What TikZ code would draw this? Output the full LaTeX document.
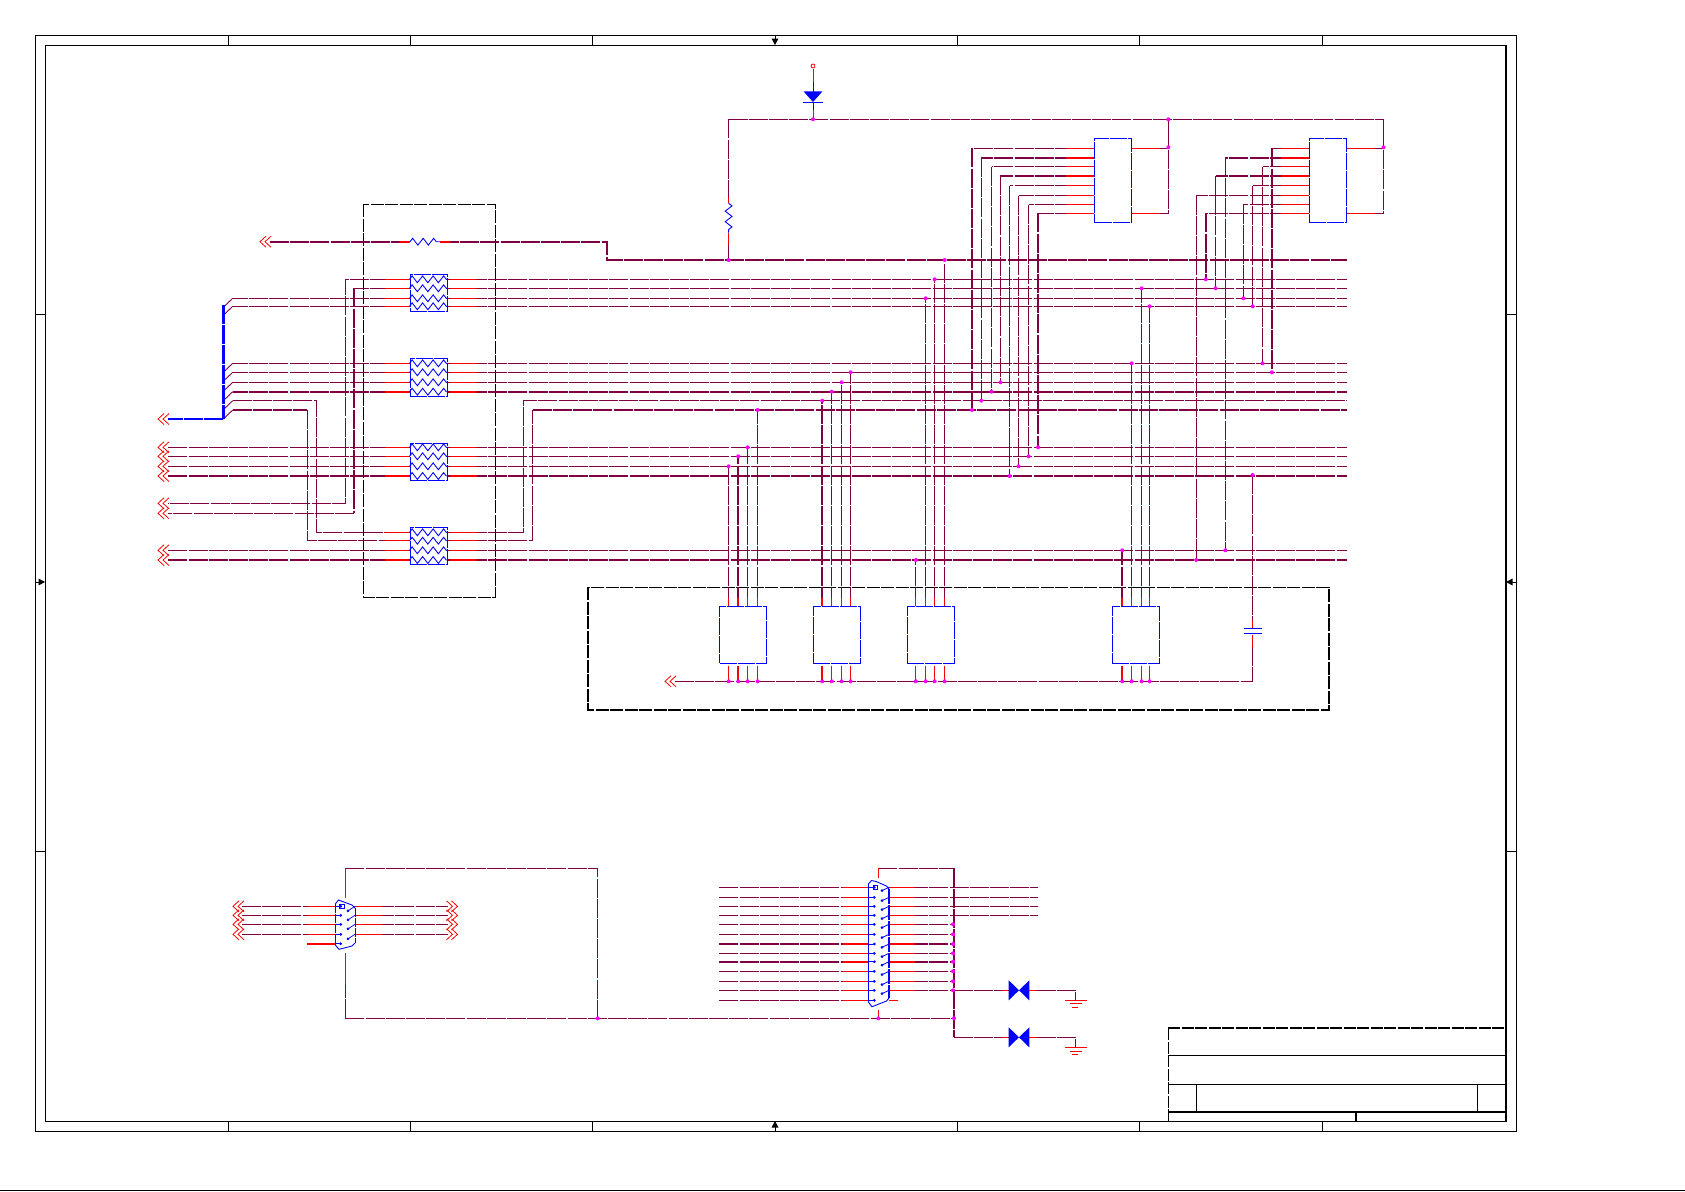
\documentclass[tikz,border=0pt]{standalone}
\usetikzlibrary{calc,decorations.pathmorphing}
\pgfdeclarelayer{topl}
\pgfsetlayers{main,topl}
\definecolor{wirec}{HTML}{800040}
\definecolor{junc}{HTML}{FF00FF}
\tikzset{
  x=1pt,y=-1pt,
  wire/.style={draw=wirec,line width=0.9pt,dash pattern=on 19pt off 1.2pt},
  wireT/.style={draw=wirec,line width=1.9pt,dash pattern=on 19pt off 1.2pt},
  stub/.style={draw=red,line width=0.8pt},
  stubT/.style={draw=red,line width=1.9pt},
  icbox/.style={draw=blue,line width=0.9pt,dash pattern=on 17pt off 1pt,rectangle,inner sep=0pt,fill=white},
  frameline/.style={draw=black,line width=0.9pt},
  groupbox/.style={draw=black,line width=0.9pt,dash pattern=on 13pt off 1.5pt},
  zig/.style={draw=blue,line width=0.9pt,decorate,decoration={zigzag,segment length=10.5pt,amplitude=3.4pt}},
  jdot/.style={fill=junc,draw=none},
  chev/.pic={\draw[red,line width=0.8pt] (6,-5.5) -- (0,0) -- (6,5.5) (11,-5.5) -- (5,0) -- (11,5.5);},
  chevR/.pic={\draw[red,line width=0.8pt] (-6,-5.5) -- (0,0) -- (-6,5.5) (-11,-5.5) -- (-5,0) -- (-11,5.5);},
  pindot/.style={fill=blue,draw=none}
}
\newcommand{\jd}[1]{\begin{pgfonlayer}{topl}\fill[jdot] #1 circle (2pt);\end{pgfonlayer}}
\begin{document}
\begin{tikzpicture}
\useasboundingbox (0,0) rectangle (1685,1191);
% ---------- drawing frame
\draw[frameline] (35.5,35.5) rectangle (1516,1131);
\draw[frameline] (45,45) rectangle (1506,1121);
\draw[draw=black,line width=1.8pt] (1506,45) -- (1506,1121);
\foreach \x in {228,410.5,592,957.5,1139,1322}{
  \draw[frameline] (\x,35.5) -- (\x,45);
  \draw[frameline] (\x,1121) -- (\x,1131);
}
\foreach \y in {314,851}{
  \draw[frameline] (35.5,\y) -- (45,\y);
  \draw[frameline] (1506,\y) -- (1516,\y);
}
\draw[frameline] (775,35.5) -- (775,40);
\fill (775,45) -- (771.5,38.5) -- (778.5,38.5) -- cycle;
\draw[frameline] (775,1126.5) -- (775,1131);
\fill (775,1121) -- (771.5,1127.5) -- (778.5,1127.5) -- cycle;
\draw[frameline] (35.5,582) -- (40,582);
\fill (45,582) -- (38.5,578.5) -- (38.5,585.5) -- cycle;
\draw[frameline] (1511.5,582) -- (1516,582);
\fill (1506,582) -- (1512.5,578.5) -- (1512.5,585.5) -- cycle;
\draw[draw=black,line width=0.9pt] (0,1190) -- (1685,1190);
% ---------- title block
\draw[draw=black,line width=1.5pt,dash pattern=on 12pt off 1.5pt] (1168,1028) -- (1506,1028);
\draw[draw=black,line width=0.9pt,dash pattern=on 12pt off 1.5pt] (1168,1028) -- (1168,1121);
\draw[frameline] (1168,1055) -- (1506,1055);
\draw[frameline] (1168,1084) -- (1506,1084);
\draw[draw=black,line width=1.6pt] (1168,1112) -- (1506,1112);
\draw[frameline] (1196,1084) -- (1196,1112);
\draw[frameline] (1477,1084) -- (1477,1112);
\draw[draw=black,line width=1.6pt] (1356,1112) -- (1356,1121);
% ---------- group boxes
\draw[groupbox] (363,204) rectangle (495,597);
\draw[groupbox,line width=1.3pt] (588,587.3) rectangle (1329,710);
% ---------- named rails
\foreach \n/\y in {V/260,A/279.3,B/288.3,C/298.3,D/306.3,E/363.3,F/372.3,G/382.3,H/391.7,I/400.7,J/410,K/447.3,L/456.3,M/466.3,N/476,P/550.3,Q/560}{
  \coordinate (r\n) at (1347,\y);
  \coordinate (e\n) at (232.7,\y);
  \coordinate (a\n) at (168,\y);
}
\coordinate (n4a) at (400,532.3);
\coordinate (n4b) at (400,540.7);
% ---------- components (upper left)
\node[icbox,minimum width=37.3pt,minimum height=36.6pt] (RN1) at (428.6,293) {};
\node[icbox,minimum width=37.3pt,minimum height=38.4pt] (RN2) at (428.6,377.5) {};
\node[icbox,minimum width=37.3pt,minimum height=37.4pt] (RN3) at (428.6,462) {};
\node[icbox,minimum width=37.3pt,minimum height=37.4pt] (RN4) at (428.6,546) {};
% logic packages
\node[icbox,minimum width=46.7pt,minimum height=57pt] (IC1) at (743.2,634.8) {};
\node[icbox,minimum width=47.2pt,minimum height=57pt] (IC2) at (836.9,634.8) {};
\node[icbox,minimum width=47.3pt,minimum height=57pt] (IC3) at (930.9,634.8) {};
\node[icbox,minimum width=47.3pt,minimum height=57pt] (IC4) at (1136,634.8) {};
\node[icbox,minimum width=37.1pt,minimum height=84.4pt] (U1) at (1113.2,180.5) {};
\node[icbox,minimum width=37pt,minimum height=84.4pt] (U2) at (1327.9,180.5) {};
% ---------- series resistor and supply
\coordinate (arrR) at (270,241.7);
\coordinate (Rw) at (410,241.7);
\coordinate (Re) at (440,241.7);
\coordinate (Rs) at (607,241.7);
\coordinate (Rd) at (607,260);
\draw[wireT] (arrR) -- (Rw);
\draw[wireT] (Re) -- (Rs) -- (Rd) -- (rV);
\draw[stubT] (400,241.7) -- (Rw) (Re) -- (450,241.7);
\draw[zig] (Rw) -- (Re);
\pic at (260,241.7) {chev};
% ---------- RN west side
\coordinate (bA) at (345.7,503.3);
\coordinate (bB) at (354,513.3);
\coordinate (aA2) at (168,503.3);
\coordinate (aB2) at (168,513.3);
\draw[wire] (RN1.west |- rA) -- (bA |- rA) -- (bA) -- (aA2);
\draw[wire] (RN1.west |- rB) -- (bB |- rB);
\draw[wireT] (bB |- rB) -- (bB);
\draw[wire] (bB) -- (aB2);
\foreach \n in {C,D}{\draw[wire] (RN1.west |- r\n) -- (e\n);}
\foreach \n in {E,F,G}{\draw[wire] (RN2.west |- r\n) -- (e\n);}
\draw[wireT] (RN2.west |- rH) -- (eH);
\foreach \n in {K,L,M}{\draw[wire] (RN3.west |- r\n) -- (a\n);}
\draw[wireT] (RN3.west |- rN) -- (aN);
\draw[wire] (RN4.west |- rP) -- (aP);
\draw[wireT] (RN4.west |- rQ) -- (aQ);
\coordinate (bI) at (316.3,532.3);
\coordinate (bJ) at (307.3,540.7);
\draw[wire] (eI) -- (bI |- eI) -- (bI) -- (RN4.west |- n4a);
\draw[wireT] (eJ) -- (bJ |- eJ);
\draw[wire] (bJ |- eJ) -- (bJ) -- (RN4.west |- n4b);
% RN east side
\foreach \b/\n in {RN1/A,RN1/B,RN1/C,RN1/D,RN2/E,RN2/F,RN2/G,RN3/K,RN3/L,RN3/M,RN4/P}{
  \draw[wire] (\b.east |- r\n) -- (r\n);
}
\foreach \b/\n in {RN2/H,RN3/N,RN4/Q}{
  \draw[wireT] (\b.east |- r\n) -- (r\n);
}
\coordinate (cI) at (523.3,532.3);
\coordinate (cJ) at (532.7,540.7);
\draw[wire] (RN4.east |- n4a) -- (cI) -- (cI |- rI) -- (rI);
\draw[wire] (RN4.east |- n4b) -- (cJ) -- (cJ |- rJ);
\draw[wireT] (cJ |- rJ) -- (rJ);
% RN stubs and elements
\foreach \b/\n/\w in {RN1/A/0.8,RN1/B/0.8,RN1/C/0.8,RN1/D/0.8,RN2/E/0.8,RN2/F/0.8,RN2/G/0.8,RN2/H/1.9,RN3/K/0.8,RN3/L/0.8,RN3/M/0.8,RN3/N/1.9,RN4/P/0.8,RN4/Q/1.9}{
  \draw[draw=red,line width=\w pt] (\b.west |- r\n) ++(-25,0) -- (\b.west |- r\n);
  \draw[draw=red,line width=\w pt] (\b.east |- r\n) ++(2,0) -- ++(27,0);
  \draw[zig] (\b.west |- r\n) -- (\b.east |- r\n);
}
\foreach \n in {n4a,n4b}{
  \draw[stub] (RN4.west |- \n) ++(-25,0) -- (RN4.west |- \n);
  \draw[stub] (RN4.east |- \n) ++(2,0) -- ++(27,0);
  \draw[zig] (RN4.west |- \n) -- (RN4.east |- \n);
}
% ---------- bus
\coordinate (busT) at (223.3,305);
\coordinate (busB) at (223.3,419);
\coordinate (busE) at (168,419);
\foreach \n in {C,D,E,F,G,H,I,J}{
  \draw[draw=wirec,line width=0.9pt] (e\n) -- ++(-9.4,9);
}
\draw[draw=blue,line width=2.6pt,dash pattern=on 19pt off 1pt] (busT) -- (busB);
\draw[draw=blue,line width=2pt,dash pattern=on 19pt off 1pt] (busB) -- (busE);
\pic at (158,419) {chev};
\foreach \c in {aK,aL,aM,aN,aA2,aB2,aP,aQ}{ \pic at ($(\c)+(-10,0)$) {chev}; }
% ---------- diode and pull-up
\coordinate (Vt) at (813,69);
\coordinate (Dk) at (813,119.3);
\coordinate (Ra) at (728.6,203.3);
\coordinate (Rb) at (728.6,232.7);
\coordinate (rail) at (1383.5,119.3);
\coordinate (T1) at (1168.3,119.3);
\draw[red,line width=0.8pt] (813,66) circle (2pt);
\draw[stub] (Vt) -- (813,82);
\draw[draw=blue,line width=0.8pt] (813,82) -- (813,92);
\fill[blue] (803.5,91.3) -- (822.5,91.3) -- (813,102) -- cycle;
\draw[draw=blue,line width=0.9pt] (802.7,102) -- (822.8,102);
\draw[draw=blue,line width=0.8pt] (813,102) -- (813,110);
\draw[stub] (813,110) -- (Dk);
\draw[wire] (Ra |- Dk) -- (rail);
\draw[wire] (Ra |- Dk) -- (Ra);
\draw[stub] (728.6,197) -- (Ra);
\draw[zig] (Ra) -- (Rb);
\draw[stub] (Rb) -- (728.6,245);
\draw[wire] (728.6,245) -- (728.6,260);
% ---------- U1 / U2 pins
\foreach \k/\y in {1/148.3,2/158,3/166.7,4/176,5/185.7,6/195.7,7/204.7,8/213.3}{
  \coordinate (p\k) at (1000,\y);
}
\foreach \k/\x/\n/\hw/\vw in {1/971.9/J/0.9/1.9,2/981.3/I/1.9/1.3,3/991.5/H/0.9/0.9,4/1000.4/G/1.9/0.9,5/1009.6/N/0.9/0.9,6/1018.5/M/0.9/0.9,7/1028.6/L/0.9/0.9,8/1038.1/K/0.9/1.9}{
  \coordinate (u1c\k) at (\x,0);
  \draw[wirec,line width=\hw pt,dash pattern=on 19pt off 1.2pt] (U1.west |- p\k) -- (u1c\k |- p\k);
  \draw[wirec,line width=\vw pt,dash pattern=on 19pt off 1.2pt] (u1c\k |- p\k) -- (u1c\k |- r\n);
  \draw[draw=red,line width=\hw pt] (U1.west |- p\k) -- ++(-28,0);
  \jd{(u1c\k |- r\n)}
}
\foreach \k/\x/\n/\hw/\vw in {1/1271.9/F/0.9/1.9,2/1225.3/P/1.9/0.9,3/1262.5/E/0.9/0.9,4/1215.6/B/1.9/0.9,5/1252.7/D/0.9/0.9,6/1196.2/Q/0.9/0.9,7/1243.3/C/0.9/0.9,8/1205.8/A/0.9/1.9}{
  \coordinate (u2c\k) at (\x,0);
  \draw[wirec,line width=\hw pt,dash pattern=on 19pt off 1.2pt] (U2.west |- p\k) -- (u2c\k |- p\k);
  \draw[wirec,line width=\vw pt,dash pattern=on 19pt off 1.2pt] (u2c\k |- p\k) -- (u2c\k |- r\n);
  \draw[draw=red,line width=\hw pt] (U2.west |- p\k) -- ++(-28,0);
  \jd{(u2c\k |- r\n)}
}
% U right sides
\draw[wire] (U1.east |- p1) -| (T1);
\draw[wire] (U1.east |- p8) -| (T1);
\draw[stub] (U1.east |- p1) -- ++(28,0);
\draw[stub] (U1.east |- p8) -- ++(28,0);
\draw[wire] (U2.east |- p1) -| (rail);
\draw[wire] (U2.east |- p8) -| (rail);
\draw[stub] (U2.east |- p1) -- ++(28,0);
\draw[stub] (U2.east |- p8) -- ++(28,0);
% ---------- logic package pins
\coordinate (gbus) at (1252.6,681.3);
\coordinate (gbusL) at (675,681.3);
\draw[wire] (gbusL) -- (gbus);
\pic at (665,681.3) {chev};
\foreach \x/\n/\w/\t in {728.7/M/0.9/IC1,738.2/L/1.6/IC1,747.6/K/0.9/IC1,757.6/J/0.9/IC1,
  822.2/I/1.9/IC2,831.7/H/0.9/IC2,841.6/G/0.9/IC2,850.6/F/0.9/IC2,
  915.8/Q/0.9/IC3,925.7/C/0.9/IC3,934.7/A/0.9/IC3,944.6/V/0.9/IC3,
  1122.2/P/1.6/IC4,1131.7/E/0.9/IC4,1141.6/B/0.9/IC4,1149.6/D/0.9/IC4}{
  \coordinate (c) at (\x,0);
  \draw[wirec,line width=\w pt,dash pattern=on 19pt off 1.2pt] (c |- \t.north) -- (c |- r\n);
  \draw[draw=red,line width=\w pt] (c |- \t.north) -- ++(0,-8);
  \draw[wirec,line width=\w pt] ($(c |- \t.south)+(0,2)$) -- (c |- gbus);
  \draw[draw=red,line width=\w pt] ($(c |- \t.south)+(0,2)$) -- ++(0,13);
  \jd{(c |- r\n)}
  \jd{(c |- gbus)}
}
% capacitor
\coordinate (Cp) at (1252.6,475);
\draw[wire] (Cp) -- (1252.6,620);
\draw[stub] (1252.6,620) -- (1252.6,628.3);
\draw[draw=blue,line width=0.9pt] (1244,628.3) -- (1261.5,628.3);
\draw[draw=blue,line width=0.9pt] (1244,633.3) -- (1261.5,633.3);
\draw[stub] (1252.6,635) -- (1252.6,647);
\draw[wire] (1252.6,647) -- (gbus);
\jd{(Cp)}
% top junctions
\jd{(Dk)}
\jd{(T1)}
\jd{(1168.3,147.3)}
\jd{(1383.5,147.3)}
\jd{(728.6,260)}
% ---------- 9-pin connector
\coordinate (JT) at (345.3,868.3);
\coordinate (JTR) at (597.7,868.3);
\coordinate (JB) at (345.3,1018.3);
\coordinate (JBR) at (597.7,1018.3);
\coordinate (Bcorner) at (954,1018.3);
\draw[wire] (JB) -- (Bcorner);
\draw[wire] (JT) -- (JTR) -- (JBR);
\draw[wire] (JB) -- (345.3,985);
\draw[stub] (345.3,953.3) -- (345.3,985);
\draw[stub] (JT) -- (345.3,898.3);
\foreach \k/\y in {1/906.3,2/915.3,3/924.3,4/934.3}{
  \coordinate (j\k) at (300,\y);
  \draw[wire] (242,\y) -- (335.3,\y);
  \draw[stub] (308.3,\y) -- (335.3,\y);
  \draw[wire] (355,\y) -- (447.5,\y);
  \draw[stub] (355,\y) -- (381.7,\y);
  \pic at (233,\y) {chev};
  \pic at (457.5,\y) {chevR};
  \fill[pindot] (340.7,\y) circle (1.5pt);
  \draw[draw=blue,line width=0.7pt] (335.3,\y) -- (340.7,\y);
  \fill[pindot] (348,\y+4.5) circle (1.5pt);
  \draw[draw=blue,line width=0.7pt] (348,\y+4.5) -- (355,\y);
}
\draw[stubT] (307.3,943.7) -- (335.3,943.7);
\fill[pindot] (340.7,943.7) circle (1.5pt);
\draw[draw=blue,line width=0.7pt] (335.3,943.7) -- (340.7,943.7);
\draw[draw=blue,line width=1.3pt,dash pattern=on 9pt off 1pt] (335.3,904) -- (335.3,945);
\draw[draw=blue,line width=0.9pt] (335.3,904) -- (338.5,900) -- (352,905) -- (355,908);
\draw[draw=blue,line width=0.9pt,dash pattern=on 9pt off 1pt] (355,908) -- (355,943);
\draw[draw=blue,line width=0.9pt] (355,943) -- (352,946) -- (339,949.3) -- (335.3,945);
\draw[draw=blue,line width=0.8pt] (339.5,904.5) rectangle (344,908.5);
% ---------- 25-pin connector
\coordinate (KT) at (878.3,868.3);
\coordinate (KC) at (954,868.3);
\coordinate (KE) at (954,1037.3);
\coordinate (KS) at (878.3,878.3);
\coordinate (KBt) at (878.3,1010);
\coordinate (KBb) at (878.3,1018.3);
\draw[wire] (KT) -- (KC);
\draw[stub] (KT) -- (KS);
\draw[wireT] (KC) -- (KE);
\draw[stub] (KBt) -- (KBb);
\foreach \y/\w in {887.3/0.9,897.3/0.9,906.3/0.9,915.3/0.9,924.3/0.9,934.3/0.9,944/1.9,953.3/0.9,961.7/1.9,971.3/0.9,981.3/0.9,990.3/0.9,1000.3/0.9}{
  \draw[wirec,line width=\w pt,dash pattern=on 19pt off 1.2pt] (719.3,\y) -- (868.3,\y);
  \draw[draw=red,line width=\w pt] (843.3,\y) -- (868.3,\y);
  \draw[draw=blue,line width=0.7pt] (868.3,\y) -- (874.3,\y);
  \fill[pindot] (874.3,\y) circle (1.5pt);
}
\foreach \y in {887.3,897.3,906.3,915.3}{
  \draw[wire] (889,\y) -- (1038.3,\y);
  \draw[stub] (889,\y) -- (915,\y);
}
\foreach \y/\w in {924.3/0.9,934.3/0.9,944/1.9,953.3/0.9,961.7/1.9,971.3/0.9,981.3/0.9,990.3/0.9}{
  \draw[wirec,line width=\w pt,dash pattern=on 19pt off 1.2pt] (889,\y) -- (953,\y);
  \draw[draw=red,line width=\w pt] (889,\y) -- (915,\y);
  \jd{(953,\y)}
}
\foreach \y in {887.3,897.3,906.3,915.3,924.3,934.3,944,953.3,961.7,971.3,981.3,990.3}{
  \fill[pindot] (882,\y+3.3) circle (1.5pt);
  \draw[draw=blue,line width=0.8pt] (882,\y+3.3) -- (889,\y);
}
\draw[stub] (889,1000.3) -- (898.3,1000.3);
\draw[draw=blue,line width=0.9pt] (868.3,884) -- (871.5,880.5) -- (876,881.5) -- (886.5,886) -- (889,889);
\draw[draw=blue,line width=1.2pt,dash pattern=on 15pt off 1pt] (889,889) -- (889,998);
\draw[draw=blue,line width=0.9pt] (868.3,884) -- (868.3,1002);
\draw[draw=blue,line width=0.9pt] (868.3,1002) -- (872,1006.7) -- (886.5,1001) -- (889,998);
\draw[draw=blue,line width=0.8pt] (873,885) rectangle (877.5,889.5);
\jd{(KBb)}
\jd{(Bcorner)}
\jd{(JBR)}
% ---------- clamp diodes and grounds
\foreach \y/\g in {990.3/1000,1037.3/1047.3}{
  \draw[wire] (954,\y) -- (1001.7,\y);
  \draw[stub] (1001.7,\y) -- (1009,\y);
  \fill[blue] (1008.7,\y-10) -- (1019,\y) -- (1008.7,\y+10) -- cycle;
  \fill[blue] (1029.3,\y-10) -- (1019,\y) -- (1029.3,\y+10) -- cycle;
  \draw[stub] (1029.3,\y) -- (1037,\y);
  \draw[wire] (1037,\y) -- (1075.7,\y) -- (1075.7,\g);
  \draw[stub] (1065,\g) -- (1086.7,\g);
  \draw[stub] (1070,\g+3.6) -- (1081.7,\g+3.6);
  \draw[stub] (1072.3,\g+7.2) -- (1078.3,\g+7.2);
}
\end{tikzpicture}
\end{document}
